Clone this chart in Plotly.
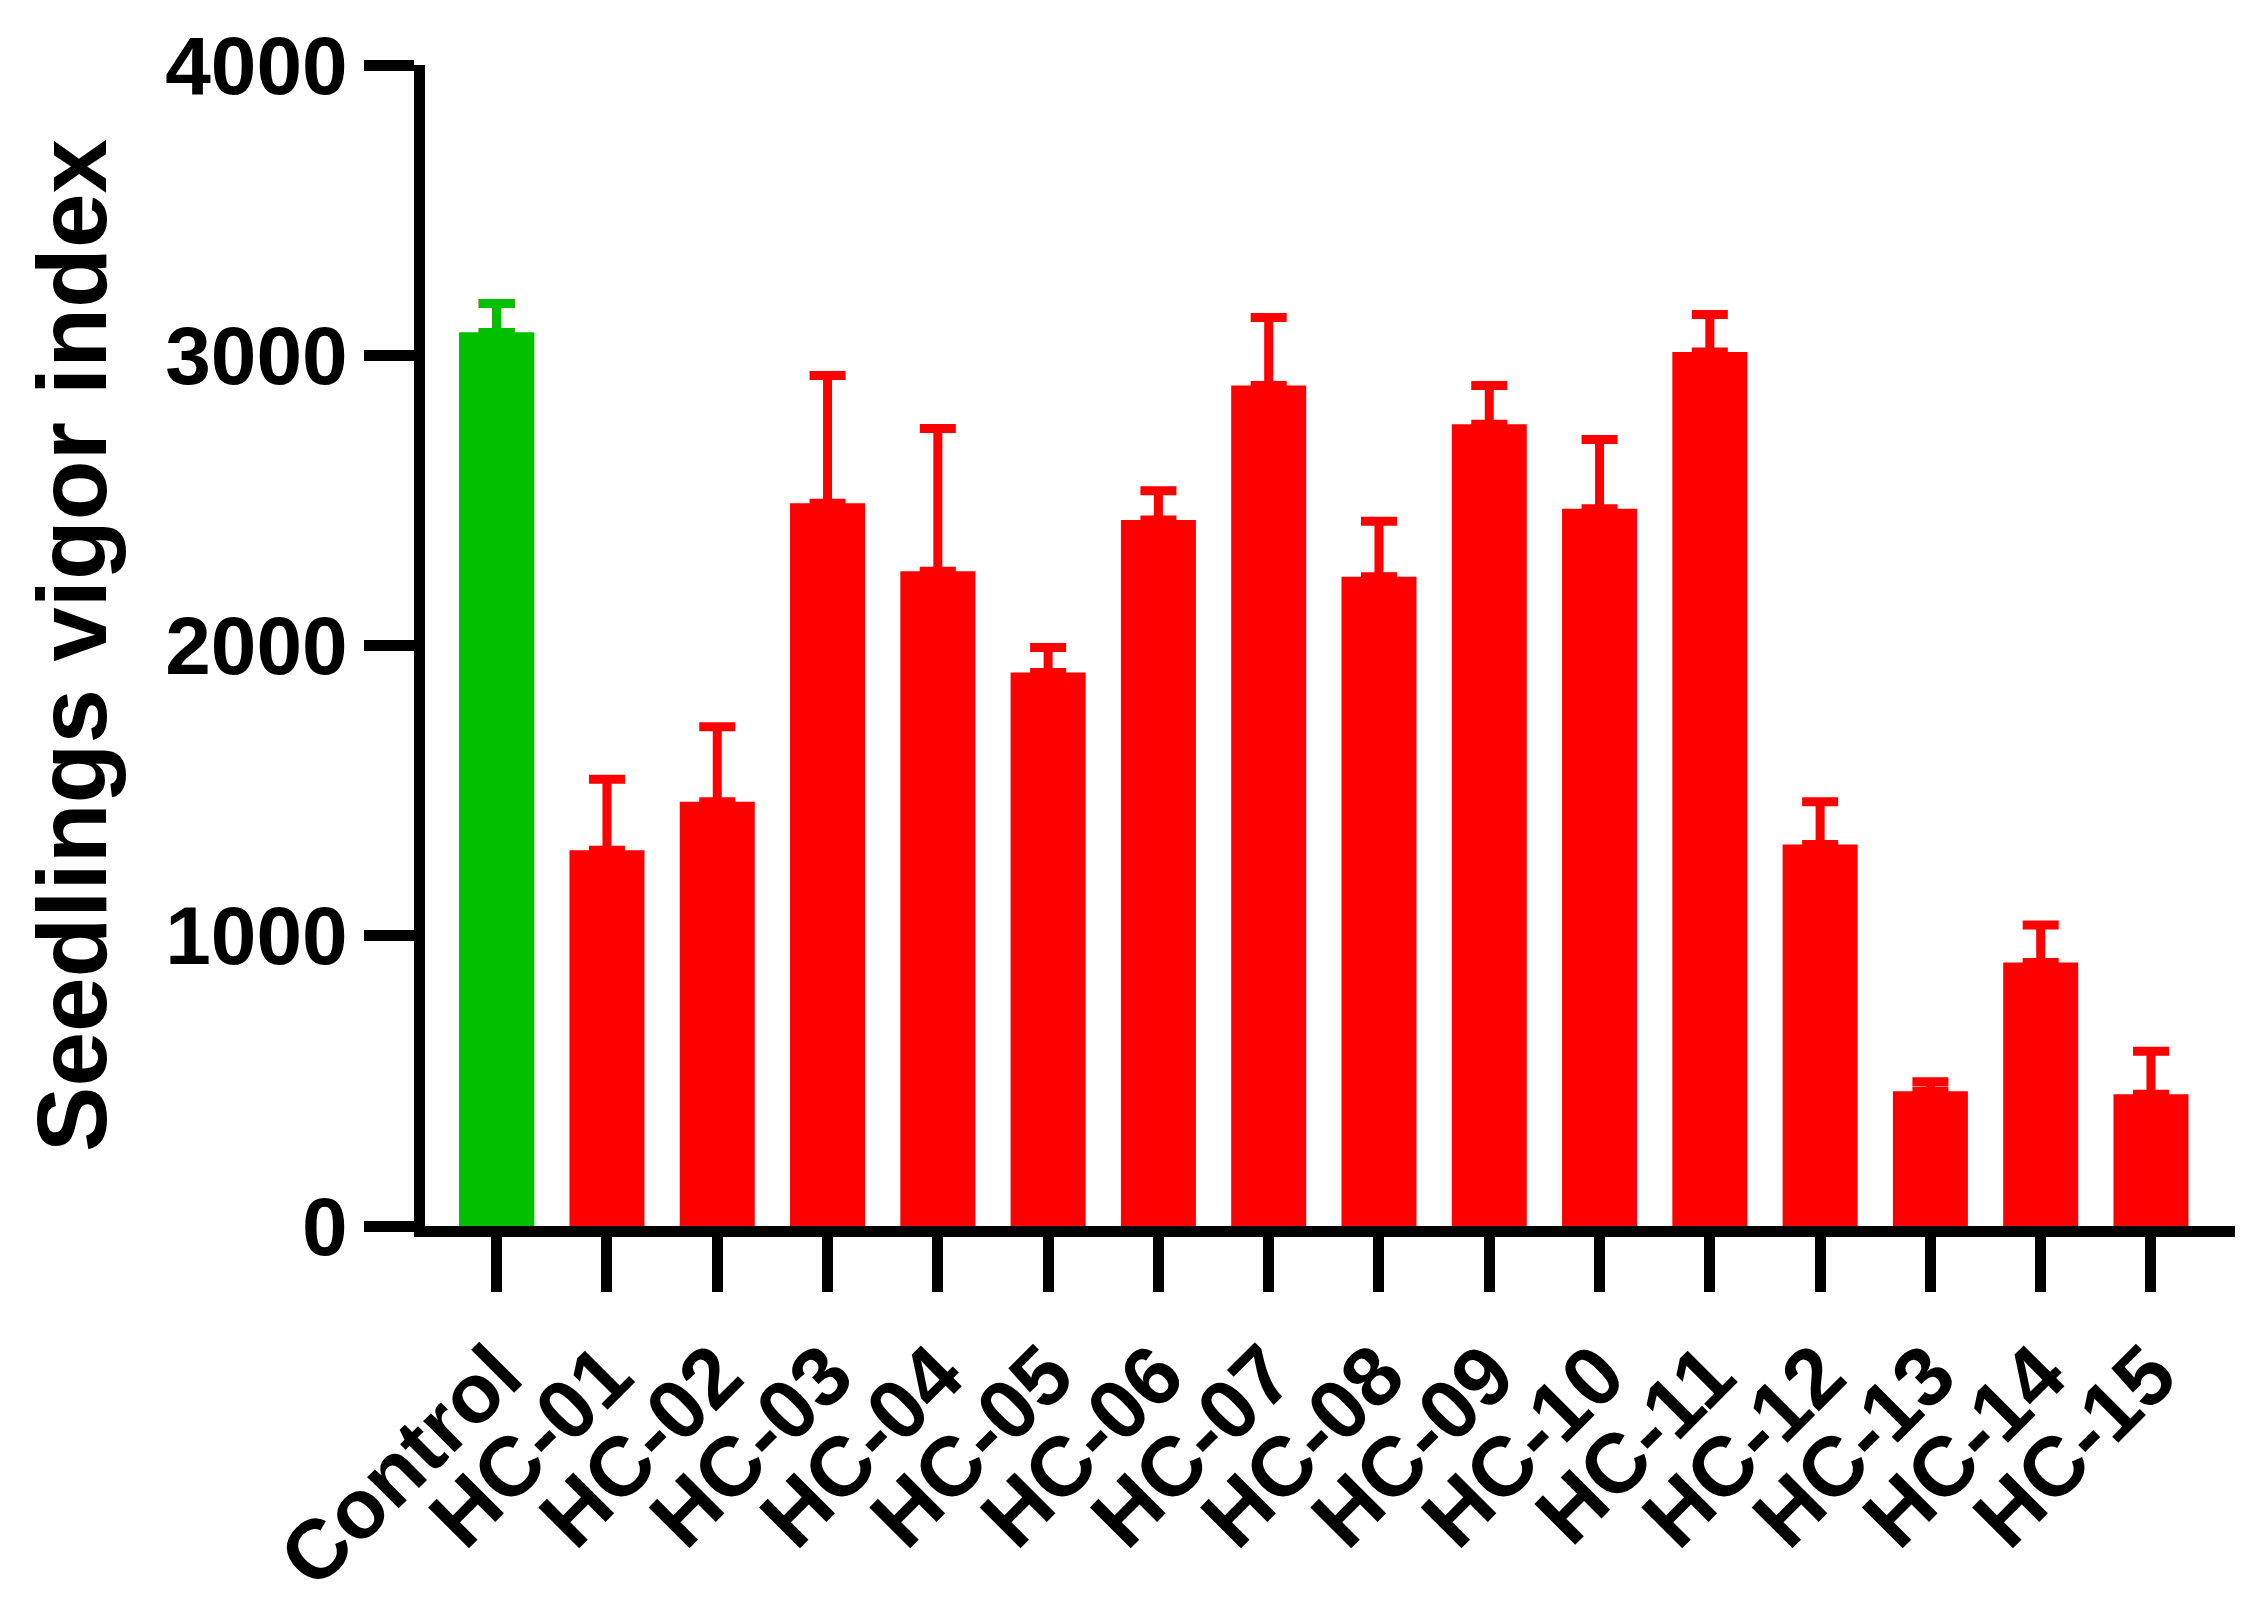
import plotly.graph_objects as go

categories = ["Control","HC-01","HC-02","HC-03","HC-04","HC-05","HC-06","HC-07","HC-08","HC-09","HC-10","HC-11","HC-12","HC-13","HC-14","HC-15"]
values = [3078,1295,1462,2490,2256,1907,2432,2896,2237,2762,2471,3011,1314,464,908,454]
errors = [100,244,258,440,492,86,101,234,191,134,239,129,148,33,129,148]
colors = ["#00C000"] + ["#FF0000"]*15

fig = go.Figure(go.Bar(
    x=list(range(len(categories))), y=values, width=0.68,
    marker=dict(color=colors, line=dict(width=0)),
    error_y=dict(type="data", array=errors, arrayminus=[0]*len(errors), symmetric=False,
                 color="#FF0000", thickness=9, width=18),
))
fig.add_trace(go.Bar(x=[0], y=[values[0]], width=0.68, marker=dict(color=colors[0], line=dict(width=0)),
    error_y=dict(type="data", array=[errors[0]], arrayminus=[0], symmetric=False, color=colors[0], thickness=9, width=18)))

fig.update_layout(
    width=2243, height=1608, plot_bgcolor="white", paper_bgcolor="white",
    showlegend=False, barmode="overlay",
    margin=dict(l=417, r=14, t=50, b=354),
    font=dict(family="Liberation Sans", color="black"),
    xaxis=dict(range=[-0.65, 15.78], tickvals=list(range(len(categories))), ticktext=[f"<b>{c}</b>" for c in categories],
               tickangle=-45, ticks="outside", ticklen=55, tickwidth=11, tickcolor="black",
               showline=True, linewidth=11, linecolor="black", showgrid=False, zeroline=False,
               tickfont=dict(family="Liberation Sans", size=84, color="black")),
    yaxis=dict(range=[0, 4000], tickvals=[0,1000,2000,3000,4000], ticktext=["<b>0</b>","<b>1000</b>","<b>2000</b>","<b>3000</b>","<b>4000</b>"],
               ticks="outside", ticklen=50, tickwidth=11, tickcolor="black",
               showline=True, linewidth=11, linecolor="black", showgrid=False, zeroline=False,
               tickfont=dict(family="Liberation Sans", size=82, color="black"),
               title=dict(text="<b>Seedlings vigor index</b>", font=dict(family="Liberation Sans", size=98, color="black"), standoff=30)),
)
fig.write_html("out.html")
